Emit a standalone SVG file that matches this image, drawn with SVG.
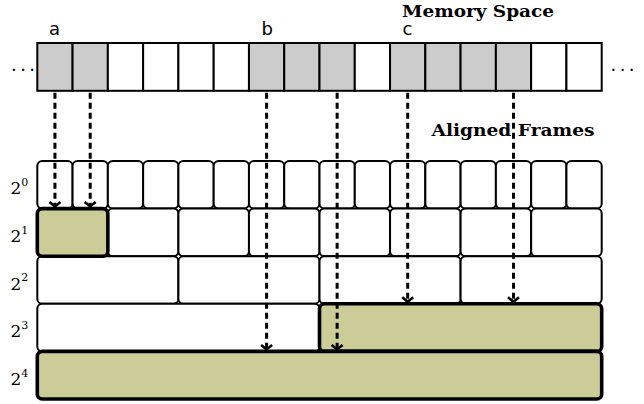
<svg xmlns="http://www.w3.org/2000/svg" width="644" height="404" viewBox="0 0 644 404">
<style>
.mem{stroke:#000;stroke-width:2;fill:#fff}
.memg{stroke:#000;stroke-width:2;fill:#cccccc}
.fr{stroke:#000;stroke-width:2;fill:#fff}
.hl{stroke:#000;stroke-width:3.6;fill:#cccc99}
.lbl{font-family:'DejaVu Sans',sans-serif;font-size:18px;fill:#000}
.title{font-family:'DejaVu Serif',serif;font-weight:bold;font-size:17.5px;fill:#000}
.pow{font-family:'DejaVu Serif',serif;font-size:17px;fill:#000}
.dots{font-family:'DejaVu Serif',serif;font-size:18px;fill:#000}
.arr{stroke:#000;stroke-width:3;stroke-dasharray:6 4;fill:none;marker-end:url(#chev)}
</style>
<defs>
<marker id="chev" markerUnits="userSpaceOnUse" viewBox="-8 -8 16 16" markerWidth="16" markerHeight="16" refX="0" refY="0" orient="auto">
<path d="M-4.5,-5.5 L0,0 L-4.5,5.5" fill="none" stroke="#000" stroke-width="2.6"/>
</marker>
</defs>
<rect width="644" height="404" fill="#fff"/>
<text class="title" x="402" y="16.5" textLength="152" lengthAdjust="spacingAndGlyphs">Memory Space</text>
<text class="title" x="431.5" y="135.5" textLength="163" lengthAdjust="spacingAndGlyphs">Aligned Frames</text>
<text class="dots" x="11" y="71" textLength="24" lengthAdjust="spacing">. . .</text>
<text class="dots" x="610.5" y="71" textLength="24" lengthAdjust="spacing">. . .</text>
<text class="lbl" x="49" y="35">a</text>
<text class="lbl" x="261.5" y="35">b</text>
<text class="lbl" x="402.5" y="35">c</text>
<g id="memory">
<g id="m0"><rect class="memg" x="37.3" y="43" width="35.28" height="47.8"/></g>
<g id="m1"><rect class="memg" x="72.58" y="43" width="35.28" height="47.8"/></g>
<g id="m2"><rect class="mem" x="107.85" y="43" width="35.28" height="47.8"/></g>
<g id="m3"><rect class="mem" x="143.13" y="43" width="35.28" height="47.8"/></g>
<g id="m4"><rect class="mem" x="178.4" y="43" width="35.28" height="47.8"/></g>
<g id="m5"><rect class="mem" x="213.68" y="43" width="35.28" height="47.8"/></g>
<g id="m6"><rect class="memg" x="248.95" y="43" width="35.28" height="47.8"/></g>
<g id="m7"><rect class="memg" x="284.23" y="43" width="35.28" height="47.8"/></g>
<g id="m8"><rect class="memg" x="319.5" y="43" width="35.28" height="47.8"/></g>
<g id="m9"><rect class="mem" x="354.78" y="43" width="35.28" height="47.8"/></g>
<g id="m10"><rect class="memg" x="390.05" y="43" width="35.28" height="47.8"/></g>
<g id="m11"><rect class="memg" x="425.33" y="43" width="35.28" height="47.8"/></g>
<g id="m12"><rect class="memg" x="460.6" y="43" width="35.28" height="47.8"/></g>
<g id="m13"><rect class="memg" x="495.88" y="43" width="35.28" height="47.8"/></g>
<g id="m14"><rect class="mem" x="531.15" y="43" width="35.28" height="47.8"/></g>
<g id="m15"><rect class="mem" x="566.43" y="43" width="35.28" height="47.8"/></g>
</g>
<g id="labels">
<text class="pow" x="10.5" y="194.3">2<tspan font-size="11" dy="-8.2">0</tspan></text>
<text class="pow" x="10.5" y="241.9">2<tspan font-size="11" dy="-8.2">1</tspan></text>
<text class="pow" x="10.5" y="289.5">2<tspan font-size="11" dy="-8.2">2</tspan></text>
<text class="pow" x="10.5" y="337.1">2<tspan font-size="11" dy="-8.2">3</tspan></text>
<text class="pow" x="10.5" y="384.7">2<tspan font-size="11" dy="-8.2">4</tspan></text>
</g>
<g id="frames">
<g id="f0-0"><rect class="fr" x="37.3" y="161" width="35.28" height="47.6" rx="5"/></g>
<g id="f0-1"><rect class="fr" x="72.58" y="161" width="35.28" height="47.6" rx="5"/></g>
<g id="f0-2"><rect class="fr" x="107.85" y="161" width="35.28" height="47.6" rx="5"/></g>
<g id="f0-3"><rect class="fr" x="143.13" y="161" width="35.28" height="47.6" rx="5"/></g>
<g id="f0-4"><rect class="fr" x="178.4" y="161" width="35.28" height="47.6" rx="5"/></g>
<g id="f0-5"><rect class="fr" x="213.68" y="161" width="35.28" height="47.6" rx="5"/></g>
<g id="f0-6"><rect class="fr" x="248.95" y="161" width="35.28" height="47.6" rx="5"/></g>
<g id="f0-7"><rect class="fr" x="284.23" y="161" width="35.28" height="47.6" rx="5"/></g>
<g id="f0-8"><rect class="fr" x="319.5" y="161" width="35.28" height="47.6" rx="5"/></g>
<g id="f0-9"><rect class="fr" x="354.78" y="161" width="35.28" height="47.6" rx="5"/></g>
<g id="f0-10"><rect class="fr" x="390.05" y="161" width="35.28" height="47.6" rx="5"/></g>
<g id="f0-11"><rect class="fr" x="425.33" y="161" width="35.28" height="47.6" rx="5"/></g>
<g id="f0-12"><rect class="fr" x="460.6" y="161" width="35.28" height="47.6" rx="5"/></g>
<g id="f0-13"><rect class="fr" x="495.88" y="161" width="35.28" height="47.6" rx="5"/></g>
<g id="f0-14"><rect class="fr" x="531.15" y="161" width="35.28" height="47.6" rx="5"/></g>
<g id="f0-15"><rect class="fr" x="566.43" y="161" width="35.28" height="47.6" rx="5"/></g>
<g id="f1-1"><rect class="fr" x="107.85" y="208.6" width="70.55" height="47.6" rx="5"/></g>
<g id="f1-2"><rect class="fr" x="178.4" y="208.6" width="70.55" height="47.6" rx="5"/></g>
<g id="f1-3"><rect class="fr" x="248.95" y="208.6" width="70.55" height="47.6" rx="5"/></g>
<g id="f1-4"><rect class="fr" x="319.5" y="208.6" width="70.55" height="47.6" rx="5"/></g>
<g id="f1-5"><rect class="fr" x="390.05" y="208.6" width="70.55" height="47.6" rx="5"/></g>
<g id="f1-6"><rect class="fr" x="460.6" y="208.6" width="70.55" height="47.6" rx="5"/></g>
<g id="f1-7"><rect class="fr" x="531.15" y="208.6" width="70.55" height="47.6" rx="5"/></g>
<g id="f2-0"><rect class="fr" x="37.3" y="256.2" width="141.1" height="47.6" rx="5"/></g>
<g id="f2-1"><rect class="fr" x="178.4" y="256.2" width="141.1" height="47.6" rx="5"/></g>
<g id="f2-2"><rect class="fr" x="319.5" y="256.2" width="141.1" height="47.6" rx="5"/></g>
<g id="f2-3"><rect class="fr" x="460.6" y="256.2" width="141.1" height="47.6" rx="5"/></g>
<g id="f3-0"><rect class="fr" x="37.3" y="303.8" width="282.2" height="47.6" rx="5"/></g>
<g id="f1-0"><rect class="hl" x="37.3" y="208.6" width="70.55" height="47.6" rx="5"/></g>
<g id="f3-1"><rect class="hl" x="319.5" y="303.8" width="282.2" height="47.6" rx="5"/></g>
<g id="f4-0"><rect class="hl" x="37.3" y="351.4" width="564.4" height="47.6" rx="5"/></g>
</g>
<g id="connectors">
<path class="arr" d="M54.94,92.8 V206.4"/>
<path class="arr" d="M90.21,92.8 V206.4"/>
<path class="arr" d="M266.59,92.8 V349.4"/>
<path class="arr" d="M337.14,92.8 V349.4"/>
<path class="arr" d="M407.69,92.8 V301.8"/>
<path class="arr" d="M513.52,92.8 V301.8"/>
</g>
</svg>
